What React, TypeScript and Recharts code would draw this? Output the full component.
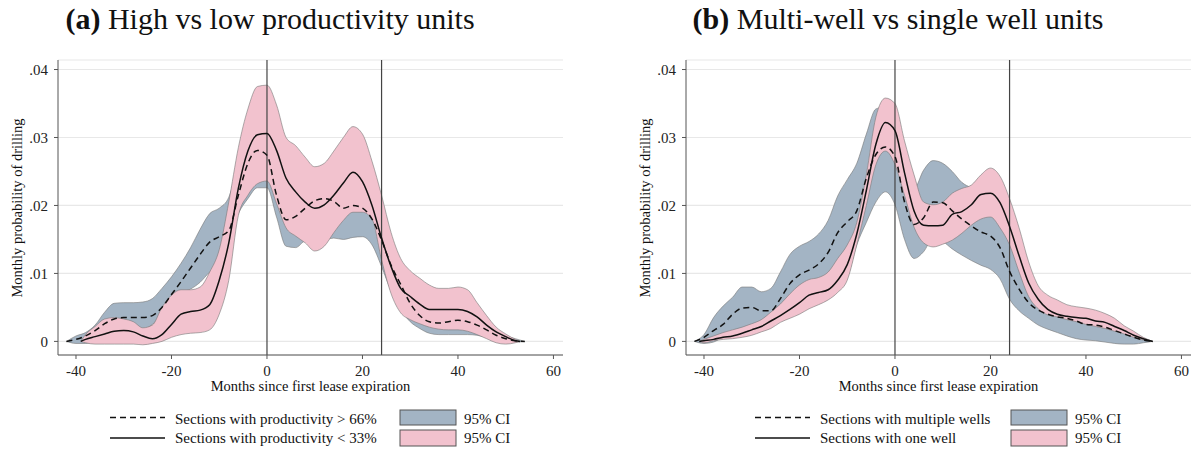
import React from "react";
import {
  ComposedChart, Area, Line,
  XAxis, YAxis, CartesianGrid, ReferenceLine,
} from "recharts";

// (a) sections with productivity > 66%  (dashed, blue CI)
const monthsHigh = [-42, -40, -38, -36, -34, -32, -30, -28, -26, -24, -22, -20, -18, -16, -14, -12, -10, -8, -6, -4, -2, 0, 2, 4, 6, 8, 10, 12, 14, 16, 18, 20, 22, 24, 26, 28, 30, 32, 34, 36, 38, 40, 42, 44, 46, 48, 50, 52, 54];
const highProd = [0, 0.0003, 0.0008, 0.0016, 0.0026, 0.0033, 0.0035, 0.0035, 0.0035, 0.0038, 0.0050, 0.0069, 0.0088, 0.0108, 0.0128, 0.0146, 0.0154, 0.0163, 0.0215, 0.0262, 0.0281, 0.0274, 0.0215, 0.0179, 0.0184, 0.0196, 0.0207, 0.0210, 0.0206, 0.0196, 0.0200, 0.0196, 0.0180, 0.0149, 0.0112, 0.0084, 0.0056, 0.0038, 0.0029, 0.0027, 0.0029, 0.0031, 0.0029, 0.0024, 0.0017, 0.0009, 0.0004, 0.0001, 0];
const highProdLo = [0, -0.0003, -0.0003, -0.0001, 0.0003, 0.0007, 0.0010, 0.0013, 0.0017, 0.0025, 0.0040, 0.0056, 0.0071, 0.0077, 0.0087, 0.0102, 0.0112, 0.0150, 0.0188, 0.0210, 0.0226, 0.0226, 0.0183, 0.0140, 0.0138, 0.0148, 0.0150, 0.0150, 0.0152, 0.0150, 0.0153, 0.0154, 0.0142, 0.0110, 0.0074, 0.0047, 0.0029, 0.0019, 0.0012, 0.0010, 0.0010, 0.0010, 0.0010, 0.0009, 0.0006, 0.0002, 0, -0.0001, 0];
const highProdHi = [0, 0.0008, 0.0013, 0.0024, 0.0043, 0.0056, 0.0057, 0.0057, 0.0058, 0.0063, 0.0078, 0.0095, 0.0115, 0.0138, 0.0165, 0.0188, 0.0196, 0.0212, 0.0262, 0.0305, 0.0330, 0.0325, 0.0290, 0.0250, 0.0240, 0.0232, 0.0238, 0.0243, 0.0246, 0.0246, 0.0250, 0.0246, 0.0222, 0.0190, 0.0150, 0.0110, 0.0080, 0.0060, 0.0050, 0.0048, 0.0050, 0.0052, 0.0050, 0.0042, 0.0030, 0.0018, 0.0009, 0.0004, 0];

// (a) sections with productivity < 33%  (solid, pink CI)
const monthsLow = [-39, -38, -36, -34, -32, -30, -28, -26, -24, -22, -20, -18, -16, -14, -12, -10, -8, -6, -4, -2, 0, 2, 4, 6, 8, 10, 12, 14, 16, 18, 20, 22, 24, 26, 28, 30, 32, 34, 36, 38, 40, 42, 44, 46, 48, 50, 52, 53];
const lowProd = [0, 0.0003, 0.0007, 0.0011, 0.0015, 0.0016, 0.0014, 0.0008, 0.0004, 0.0010, 0.0025, 0.0040, 0.0044, 0.0046, 0.0054, 0.0090, 0.0145, 0.0225, 0.0280, 0.0304, 0.0306, 0.0281, 0.0240, 0.0220, 0.0205, 0.0196, 0.0201, 0.0215, 0.0233, 0.0249, 0.0235, 0.0200, 0.0152, 0.0110, 0.0078, 0.0066, 0.0055, 0.0047, 0.0047, 0.0047, 0.0047, 0.0044, 0.0036, 0.0024, 0.0014, 0.0007, 0.0001, 0];
const lowProdLo = [0, -0.0002, -0.0004, -0.0004, -0.0004, -0.0004, -0.0004, -0.0005, -0.0003, 0, 0.0006, 0.0010, 0.0012, 0.0013, 0.0017, 0.0040, 0.0090, 0.0185, 0.0215, 0.0232, 0.0236, 0.0203, 0.0167, 0.0155, 0.0145, 0.0133, 0.0140, 0.0160, 0.0178, 0.0190, 0.0190, 0.0180, 0.0120, 0.0070, 0.0042, 0.0032, 0.0026, 0.0021, 0.0018, 0.0017, 0.0017, 0.0015, 0.0010, 0.0004, -0.0002, -0.0004, -0.0002, 0];
const lowProdHi = [0, 0.0010, 0.0022, 0.0033, 0.0035, 0.0033, 0.0029, 0.0020, 0.0024, 0.0050, 0.0068, 0.0076, 0.0076, 0.0080, 0.0102, 0.0135, 0.0205, 0.0285, 0.0342, 0.0375, 0.0377, 0.0348, 0.0300, 0.0288, 0.0271, 0.0257, 0.0262, 0.0280, 0.0300, 0.0316, 0.0305, 0.0265, 0.0215, 0.0160, 0.0122, 0.0104, 0.0093, 0.0083, 0.0078, 0.0078, 0.0080, 0.0076, 0.0057, 0.0038, 0.0021, 0.0011, 0.0003, 0];

// (b) sections with multiple wells  (dashed, blue CI)
const monthsMulti = [-42, -40, -38, -36, -34, -32, -30, -28, -26, -24, -22, -20, -18, -16, -14, -12, -10, -8, -6, -4, -2, 0, 2, 4, 6, 8, 10, 12, 14, 16, 18, 20, 22, 24, 26, 28, 30, 32, 34, 36, 38, 40, 42, 44, 46, 48, 50, 52, 54];
const multiWell = [0, 0.0006, 0.0016, 0.0025, 0.0040, 0.0049, 0.0050, 0.0045, 0.0045, 0.0063, 0.0085, 0.0098, 0.0105, 0.0114, 0.0131, 0.0160, 0.0176, 0.0192, 0.0240, 0.0275, 0.0286, 0.0272, 0.0205, 0.0172, 0.0182, 0.0205, 0.0204, 0.0192, 0.0180, 0.0170, 0.0161, 0.0155, 0.0138, 0.0103, 0.0077, 0.0057, 0.0046, 0.0040, 0.0036, 0.0034, 0.0030, 0.0025, 0.0024, 0.0021, 0.0016, 0.0011, 0.0006, 0.0002, 0];
const multiWellLo = [0, -0.0003, -0.0001, 0.0006, 0.0008, 0.0010, 0.0013, 0.0018, 0.0023, 0.0032, 0.0038, 0.0044, 0.0052, 0.0058, 0.0065, 0.0076, 0.0094, 0.0142, 0.0175, 0.0205, 0.0220, 0.0201, 0.0150, 0.0122, 0.0132, 0.0152, 0.0147, 0.0136, 0.0127, 0.0119, 0.0112, 0.0106, 0.0092, 0.0062, 0.0045, 0.0034, 0.0024, 0.0018, 0.0013, 0.0008, 0.0004, 0.0002, 0.0001, -0.0001, -0.0003, -0.0004, -0.0004, -0.0002, 0];
const multiWellHi = [0, 0.0010, 0.0035, 0.0052, 0.0065, 0.0080, 0.0080, 0.0073, 0.0078, 0.0102, 0.0128, 0.0140, 0.0147, 0.0158, 0.0178, 0.0214, 0.0238, 0.0262, 0.0305, 0.0342, 0.0345, 0.0320, 0.0265, 0.0225, 0.0252, 0.0266, 0.0262, 0.0250, 0.0234, 0.0226, 0.0220, 0.0212, 0.0195, 0.0165, 0.0125, 0.0090, 0.0068, 0.0058, 0.0051, 0.0048, 0.0045, 0.0042, 0.0038, 0.0034, 0.0028, 0.0020, 0.0012, 0.0005, 0];

// (b) sections with one well  (solid, pink CI)
const monthsSingle = [-41, -40, -38, -36, -34, -32, -30, -28, -26, -24, -22, -20, -18, -16, -14, -12, -10, -8, -6, -4, -2, 0, 2, 4, 6, 8, 10, 12, 14, 16, 18, 20, 22, 24, 26, 28, 30, 32, 34, 36, 38, 40, 42, 44, 46, 48, 50, 52, 54];
const singleWell = [0, 0.0001, 0.0003, 0.0006, 0.0008, 0.0012, 0.0017, 0.0022, 0.0030, 0.0038, 0.0047, 0.0057, 0.0068, 0.0072, 0.0076, 0.0090, 0.0113, 0.0158, 0.0222, 0.0290, 0.0322, 0.0310, 0.0248, 0.0192, 0.0171, 0.0170, 0.0171, 0.0187, 0.0191, 0.0201, 0.0216, 0.0218, 0.0204, 0.0169, 0.0126, 0.0086, 0.0062, 0.0047, 0.0040, 0.0037, 0.0035, 0.0034, 0.0030, 0.0028, 0.0022, 0.0016, 0.0009, 0.0004, 0];
const singleWellLo = [0, -0.0002, 0.0001, 0.0003, 0.0004, 0.0006, 0.0009, 0.0014, 0.0019, 0.0028, 0.0034, 0.0040, 0.0048, 0.0054, 0.0061, 0.0072, 0.0090, 0.0142, 0.0200, 0.0260, 0.0280, 0.0260, 0.0215, 0.0168, 0.0145, 0.0139, 0.0143, 0.0149, 0.0159, 0.0171, 0.0180, 0.0183, 0.0167, 0.0142, 0.0102, 0.0066, 0.0048, 0.0039, 0.0036, 0.0032, 0.0029, 0.0025, 0.0022, 0.0019, 0.0015, 0.0011, 0.0006, 0.0002, 0];
const singleWellHi = [0, 0.0003, 0.0008, 0.0013, 0.0017, 0.0021, 0.0026, 0.0032, 0.0043, 0.0055, 0.0070, 0.0083, 0.0091, 0.0094, 0.0102, 0.0122, 0.0142, 0.0175, 0.0245, 0.0330, 0.0358, 0.0350, 0.0295, 0.0245, 0.0205, 0.0201, 0.0205, 0.0218, 0.0225, 0.0230, 0.0245, 0.0255, 0.0243, 0.0210, 0.0167, 0.0117, 0.0082, 0.0068, 0.0061, 0.0054, 0.0051, 0.0049, 0.0046, 0.0041, 0.0034, 0.0023, 0.0015, 0.0006, 0];

const xTicks = [-40, -20, 0, 20, 40, 60];
const yTicks = [0, 0.01, 0.02, 0.03, 0.04];
const expiryLines = [0, 24];

const BLUE = "#a3b4c4";
const PINK = "#f2c2ce";
const EDGE = "#777";
const AXIS = "#555";
const SERIF = "'Liberation Serif', 'Times New Roman', serif";

type Row = { m: number; v: number; band: [number, number] };

const toRows = (months: number[], v: number[], lo: number[], hi: number[]): Row[] =>
  months.map((m, i) => ({ m, v: v[i], band: [lo[i], hi[i]] }));

const fmtY = (v: number) => (v === 0 ? "0" : v.toFixed(2).replace(/^0/, ""));

const tickStyle = { fontSize: 15, fill: "#222", fontFamily: SERIF };

function Panel({
  left, tag, title, dashed, solid, dashedLabel, solidLabel, lineX, swatchX,
}: {
  left: number; tag: string; title: string;
  dashed: Row[]; solid: Row[];
  dashedLabel: string; solidLabel: string;
  lineX: number; swatchX: number;
}) {
  const txt: React.CSSProperties = { position: "absolute", fontFamily: SERIF, color: "#111", whiteSpace: "nowrap" };
  return (
    <div style={{ position: "absolute", left, top: 0, width: 568, height: 450 }}>
      <div style={{ ...txt, left: 0, width: 540, top: 4, fontSize: 30, lineHeight: "30px", textAlign: "center" }}>
        <b>{tag}</b> {title}
      </div>
      <ComposedChart width={568} height={450} margin={{ top: 60, right: 5, bottom: 65, left: 28 }}>
        <CartesianGrid vertical={false} stroke="#e8e8e8" strokeWidth={1.2} />
        <XAxis
          type="number" dataKey="m" domain={[-43.77, 62]} ticks={xTicks} allowDataOverflow
          height={30} tickSize={4} tickMargin={6} tick={tickStyle}
          axisLine={{ stroke: AXIS }} tickLine={{ stroke: AXIS }}
        />
        <YAxis
          type="number" domain={[-0.002, 0.0414]} ticks={yTicks} allowDataOverflow
          width={30} tickSize={4} tickMargin={6} tick={tickStyle} tickFormatter={fmtY}
          axisLine={{ stroke: AXIS }} tickLine={{ stroke: AXIS }}
        />
        <Area data={dashed} dataKey="band" type="monotone" fill={BLUE} fillOpacity={1}
          stroke={EDGE} strokeWidth={0.6} isAnimationActive={false} />
        <Area data={solid} dataKey="band" type="monotone" fill={PINK} fillOpacity={1}
          stroke={EDGE} strokeWidth={0.6} isAnimationActive={false} />
        {expiryLines.map((x) => (
          <ReferenceLine key={x} x={x} stroke="#444" strokeWidth={1.2} />
        ))}
        <Line data={dashed} dataKey="v" type="monotone" stroke="#111" strokeWidth={1.5}
          strokeDasharray="6 4" dot={false} isAnimationActive={false} />
        <Line data={solid} dataKey="v" type="monotone" stroke="#111" strokeWidth={1.5}
          dot={false} isAnimationActive={false} />
      </ComposedChart>
      <div style={{ ...txt, left: 17, top: 207.5, fontSize: 14.5, transform: "translate(-50%, -50%) rotate(-90deg)" }}>
        Monthly probability of drilling
      </div>
      <div style={{ ...txt, left: 58, width: 505, top: 378, fontSize: 14.5, lineHeight: "16px", textAlign: "center" }}>
        Months since first lease expiration
      </div>
      <svg style={{ position: "absolute", left: 0, top: 400 }} width={568} height={50}>
        <line x1={lineX} x2={lineX + 55} y1={17.5} y2={17.5} stroke="#111" strokeWidth={1.3} strokeDasharray="6 4" />
        <line x1={lineX} x2={lineX + 55} y1={38} y2={38} stroke="#111" strokeWidth={1.3} />
        <rect x={swatchX} y={10} width={56} height={15} fill={BLUE} stroke={AXIS} strokeWidth={1} />
        <rect x={swatchX} y={30} width={56} height={16} fill={PINK} stroke={AXIS} strokeWidth={1} />
      </svg>
      <div style={{ ...txt, left: lineX + 65, top: 410.5, fontSize: 15, lineHeight: "17px" }}>{dashedLabel}</div>
      <div style={{ ...txt, left: lineX + 65, top: 430, fontSize: 15, lineHeight: "17px" }}>{solidLabel}</div>
      <div style={{ ...txt, left: swatchX + 64, top: 410.5, fontSize: 15, lineHeight: "17px" }}>95% CI</div>
      <div style={{ ...txt, left: swatchX + 64, top: 430, fontSize: 15, lineHeight: "17px" }}>95% CI</div>
    </div>
  );
}

export default function App() {
  return (
    <div style={{ position: "fixed", left: 0, top: 0, width: 1196, height: 450, background: "#fff", overflow: "hidden" }}>
      <Panel
        left={0} tag="(a)" title="High vs low productivity units"
        dashed={toRows(monthsHigh, highProd, highProdLo, highProdHi)}
        solid={toRows(monthsLow, lowProd, lowProdLo, lowProdHi)}
        dashedLabel="Sections with productivity > 66%"
        solidLabel="Sections with productivity < 33%"
        lineX={110} swatchX={400}
      />
      <Panel
        left={628} tag="(b)" title="Multi-well vs single well units"
        dashed={toRows(monthsMulti, multiWell, multiWellLo, multiWellHi)}
        solid={toRows(monthsSingle, singleWell, singleWellLo, singleWellHi)}
        dashedLabel="Sections with multiple wells"
        solidLabel="Sections with one well"
        lineX={127} swatchX={383}
      />
    </div>
  );
}
